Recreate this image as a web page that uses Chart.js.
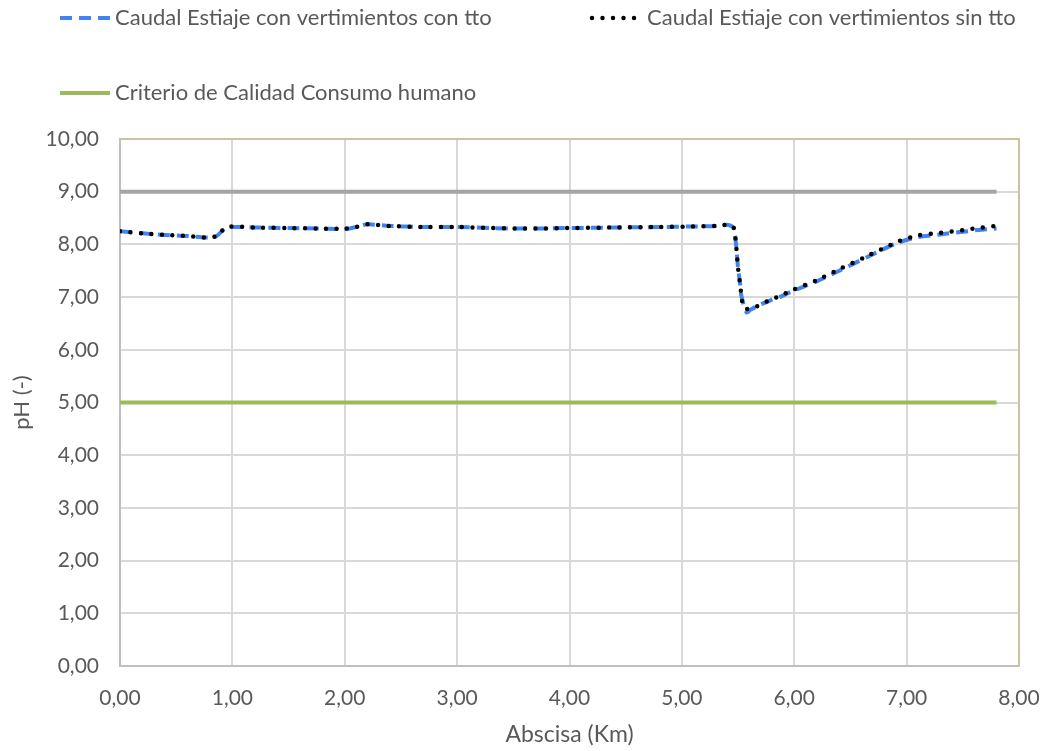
<!DOCTYPE html>
<html>
<head>
<meta charset="utf-8">
<script src="https://cdn.jsdelivr.net/npm/chart.js@4.4.0/dist/chart.umd.min.js"></script>
<style>
	html, body { margin: 0; padding: 0; background: #ffffff; }
</style>
</head>
<body>
<canvas id="PhChart" width="1045" height="751"></canvas>
<script>
// abscisa (km) and pH
const abscisaConTto = [0, 0.2, 0.4, 0.6, 0.78, 0.86, 0.95, 1.2, 1.5, 1.8, 2.0, 2.1, 2.2, 2.4, 2.7, 3.0, 3.3, 3.6, 4.0, 4.4, 4.8, 5.1, 5.3, 5.41, 5.46, 5.48, 5.5, 5.52, 5.53, 5.575, 5.61, 5.69, 5.78, 5.87, 5.97, 6.2, 6.4, 6.65, 6.92, 7.1, 7.3, 7.5, 7.67, 7.8]
const phConTto = [8.25, 8.21, 8.18, 8.16, 8.13, 8.16, 8.32, 8.32, 8.31, 8.30, 8.29, 8.33, 8.38, 8.35, 8.33, 8.33, 8.31, 8.30, 8.31, 8.32, 8.33, 8.34, 8.35, 8.37, 8.32, 8.04, 7.55, 7.22, 7.02, 6.71, 6.76, 6.85, 6.93, 7.00, 7.10, 7.30, 7.50, 7.76, 8.03, 8.14, 8.19, 8.24, 8.28, 8.30]

const abscisaSinTto = [0, 0.2, 0.4, 0.6, 0.78, 0.86, 0.95, 1.2, 1.5, 1.8, 2.0, 2.1, 2.2, 2.4, 2.7, 3.0, 3.3, 3.6, 4.0, 4.4, 4.8, 5.1, 5.3, 5.41, 5.46, 5.48, 5.5, 5.52, 5.53, 5.55, 5.61, 5.69, 5.78, 5.87, 5.97, 6.2, 6.4, 6.65, 6.92, 7.1, 7.3, 7.5, 7.67, 7.8]
const phSinTto = [8.25, 8.21, 8.18, 8.16, 8.13, 8.16, 8.33, 8.32, 8.31, 8.30, 8.30, 8.33, 8.38, 8.35, 8.33, 8.33, 8.31, 8.30, 8.31, 8.32, 8.33, 8.34, 8.35, 8.37, 8.32, 8.04, 7.55, 7.22, 7.02, 6.80, 6.77, 6.85, 6.94, 7.02, 7.12, 7.32, 7.53, 7.78, 8.05, 8.17, 8.22, 8.27, 8.32, 8.35]

const criterioAbscisa = [0, 7.8]
const criterioConsumo = [5, 5]
const limiteSuperior = [9, 9]

const xTicks = [0, 1, 2, 3, 4, 5, 6, 7, 8]
const yTicks = [0, 1, 2, 3, 4, 5, 6, 7, 8, 9, 10]

const toPoints = (xs, ys) => xs.map((x, i) => ({ x: x, y: ys[i] }))
const fmt = (v) => Number(v).toFixed(2).replace(".", ",")

const textColor = "#595959"
const fontFamily = "Lato, 'Open Sans', sans-serif"

// legend drawn by hand so it wraps like the original (2 items, then 1)
const legendSpots = [
	{ dataset: 0, x: 60, y: 18 },
	{ dataset: 1, x: 592, y: 18 },
	{ dataset: 2, x: 60, y: 93 },
]

const customLegend = {
	id: "customLegend",
	afterDraw(chart) {
		const ctx = chart.ctx
		ctx.save()
		legendSpots.forEach((spot) => {
			const ds = chart.data.datasets[spot.dataset]
			ctx.beginPath()
			ctx.strokeStyle = ds.borderColor
			ctx.lineWidth = ds.borderWidth
			ctx.lineCap = ds.borderCapStyle || "butt"
			ctx.setLineDash(ds.borderDash || [])
			ctx.moveTo(spot.x, spot.y)
			ctx.lineTo(spot.x + 50, spot.y)
			ctx.stroke()
			ctx.setLineDash([])
			ctx.fillStyle = textColor
			ctx.font = "22px " + fontFamily
			ctx.textBaseline = "middle"
			ctx.textAlign = "left"
			ctx.fillText(ds.label, spot.x + 55, spot.y)
		})
		ctx.restore()
	},
}

// tan border on top and right of the plot area
const plotFrame = {
	id: "plotFrame",
	afterDatasetsDraw(chart) {
		const { ctx, chartArea } = chart
		ctx.save()
		ctx.strokeStyle = "#c9c3a0"
		ctx.lineWidth = 2
		ctx.beginPath()
		ctx.moveTo(chartArea.left, chartArea.top)
		ctx.lineTo(chartArea.right, chartArea.top)
		ctx.lineTo(chartArea.right, chartArea.bottom)
		ctx.stroke()
		ctx.restore()
	},
}

const ctx = document.getElementById("PhChart").getContext("2d")

new Chart(ctx, {
	type: "line",
	data: {
		datasets: [
			{
				label: "Caudal Estiaje con vertimientos con tto",
				data: toPoints(abscisaConTto, phConTto),
				borderColor: "#3f84f0",
				borderWidth: 4,
				borderDash: [12, 7],
				borderCapStyle: "butt",
				tension: 0.25,
				pointRadius: 0,
				order: 1,
			},
			{
				label: "Caudal Estiaje con vertimientos sin tto",
				data: toPoints(abscisaSinTto, phSinTto),
				borderColor: "#000000",
				borderWidth: 4.5,
				borderDash: [0, 10.5],
				borderCapStyle: "round",
				tension: 0.25,
				pointRadius: 0,
				order: 0,
			},
			{
				label: "Criterio de Calidad Consumo humano",
				data: toPoints(criterioAbscisa, criterioConsumo),
				borderColor: "#9bbb59",
				borderWidth: 4,
				pointRadius: 0,
				order: 2,
			},
			{
				label: "",
				data: toPoints(criterioAbscisa, limiteSuperior),
				borderColor: "#a5a5a5",
				borderWidth: 4,
				pointRadius: 0,
				order: 3,
			},
		],
	},
	options: {
		responsive: false,
		animation: false,
		layout: { padding: { top: 139, right: 26, left: 0, bottom: 0 } },
		plugins: {
			legend: { display: false },
			tooltip: { enabled: false },
		},
		scales: {
			x: {
				type: "linear",
				min: 0,
				max: 8,
				afterFit: (scale) => {
					scale.height = 85
					scale.paddingRight = 0
					scale.paddingLeft = 0
				},
				afterBuildTicks: (scale) => { scale.ticks = xTicks.map((v) => ({ value: v })) },
				ticks: {
					color: textColor,
					font: { family: fontFamily, size: 21 },
					padding: 20,
					callback: (v) => fmt(v),
				},
				grid: { color: "#d9d9d9", lineWidth: 2, drawTicks: false },
				border: { color: "#bfbfbf", width: 2 },
				title: {
					display: true,
					text: "Abscisa (Km)",
					color: textColor,
					font: { family: fontFamily, size: 23 },
					padding: { top: 0, bottom: 3 },
				},
			},
			y: {
				min: 0,
				max: 10,
				afterFit: (scale) => { scale.width = 120 },
				afterBuildTicks: (scale) => { scale.ticks = yTicks.map((v) => ({ value: v })) },
				ticks: {
					color: textColor,
					font: { family: fontFamily, size: 21 },
					padding: 21,
					callback: (v) => fmt(v),
				},
				grid: { color: "#d9d9d9", lineWidth: 2, drawTicks: false },
				border: { color: "#bfbfbf", width: 2 },
				title: {
					display: true,
					text: "pH (-)",
					color: textColor,
					font: { family: fontFamily, size: 22 },
					padding: { top: 9, bottom: 0 },
				},
			},
		},
	},
	plugins: [customLegend, plotFrame],
})
</script>
</body>
</html>
